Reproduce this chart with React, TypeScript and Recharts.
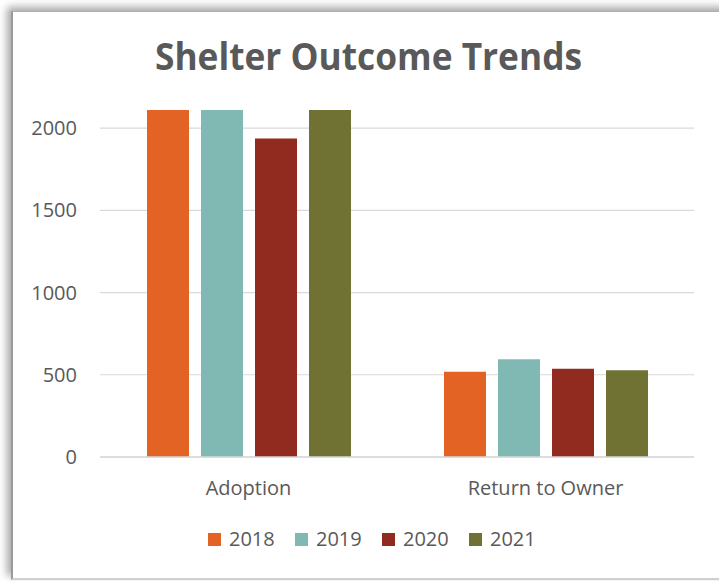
import React from "react";
import { BarChart, Bar, XAxis, YAxis, CartesianGrid, Legend } from "recharts";

const categories = ["Adoption", "Return to Owner"];
const years = ["2018", "2019", "2020", "2021"];
const values2018 = [2110, 518];
const values2019 = [2110, 594];
const values2020 = [1937, 537];
const values2021 = [2110, 527];
const yTicks = [0, 500, 1000, 1500, 2000];
const colors = ["#E36325", "#80B9B3", "#922B1F", "#6F7232"];

const seriesValues = [values2018, values2019, values2020, values2021];
const data = categories.map((c, i) => {
  const row: Record<string, any> = { category: c };
  years.forEach((y, j) => {
    row[y] = seriesValues[j][i];
  });
  return row;
});

const FONT = "'Open Sans', sans-serif";
const TEXT = "#595959";

const YTick = (props: any) => {
  const { x, y, payload } = props;
  return (
    <text x={x} y={y} dy="0.35em" textAnchor="end" fontFamily={FONT} fontSize={20} fill={TEXT}>
      {payload.value}
    </text>
  );
};

const XTick = (props: any) => {
  const { x, y, payload } = props;
  return (
    <text x={x} y={y} dy="0.95em" textAnchor="middle" fontFamily={FONT} fontSize={20} fill={TEXT}>
      {payload.value}
    </text>
  );
};

const LegendContent = () => (
  <div style={{ display: "flex", paddingLeft: 200, fontFamily: FONT, fontSize: 20, color: TEXT }}>
    {years.map((y, i) => (
      <div key={y} style={{ display: "flex", alignItems: "center", width: 87 }}>
        <div style={{ width: 13, height: 13, background: colors[i], marginRight: 8 }} />
        <span style={{ lineHeight: "28px" }}>{y}</span>
      </div>
    ))}
  </div>
);

export default function App() {
  return (
    <div
      style={{
        position: "absolute",
        left: 0,
        top: 0,
        width: 719,
        height: 581,
        overflow: "hidden",
        background: "#fff",
      }}
    >
      <div
        style={{
          position: "absolute",
          left: 11,
          top: 11,
          width: 760,
          height: 569,
          boxSizing: "border-box",
          background: "#fff",
          borderLeft: "2px solid #9a9a9a",
          borderTop: "1px solid #b0b0b0",
          borderBottom: "2px solid #d0d0d0",
          boxShadow: "-4px -4px 8px rgba(0,0,0,0.35)",
        }}
      />
      <svg style={{ position: "absolute", left: 8, top: 8 }} width={711} height={100}>
        <text
          x={147}
          y={62}
          textLength={427}
          lengthAdjust="spacingAndGlyphs"
          fontFamily={FONT}
          fontWeight={700}
          fontSize={37}
          fill={TEXT}
        >
          Shelter Outcome Trends
        </text>
      </svg>
      <div style={{ position: "absolute", left: 8, top: 8 }}>
        <BarChart
          width={711}
          height={573}
          data={data}
          margin={{ top: 102, right: 25, left: 32, bottom: 54 }}
          barSize={42}
          barGap={12}
        >
          <CartesianGrid
            vertical={false}
            horizontalValues={yTicks}
            stroke="#d9d9d9"
            strokeWidth={1.2}
          />
          <XAxis
            dataKey="category"
            height={40}
            tickLine={false}
            tickSize={0}
            tickMargin={19}
            axisLine={{ stroke: "#d9d9d9", strokeWidth: 1.5 }}
            tick={<XTick />}
          />
          <YAxis
            width={60}
            domain={[0, 2110]}
            ticks={yTicks}
            allowDataOverflow
            axisLine={false}
            tickLine={false}
            tickSize={0}
            tickMargin={23}
            tick={<YTick />}
          />
          <Legend
            height={30}
            verticalAlign="bottom"
            wrapperStyle={{ top: 517, bottom: "auto", left: 0, width: 711 }}
            content={() => <LegendContent />}
          />
          {years.map((y, i) => (
            <Bar key={y} dataKey={y} fill={colors[i]} isAnimationActive={false} />
          ))}
        </BarChart>
      </div>
    </div>
  );
}
